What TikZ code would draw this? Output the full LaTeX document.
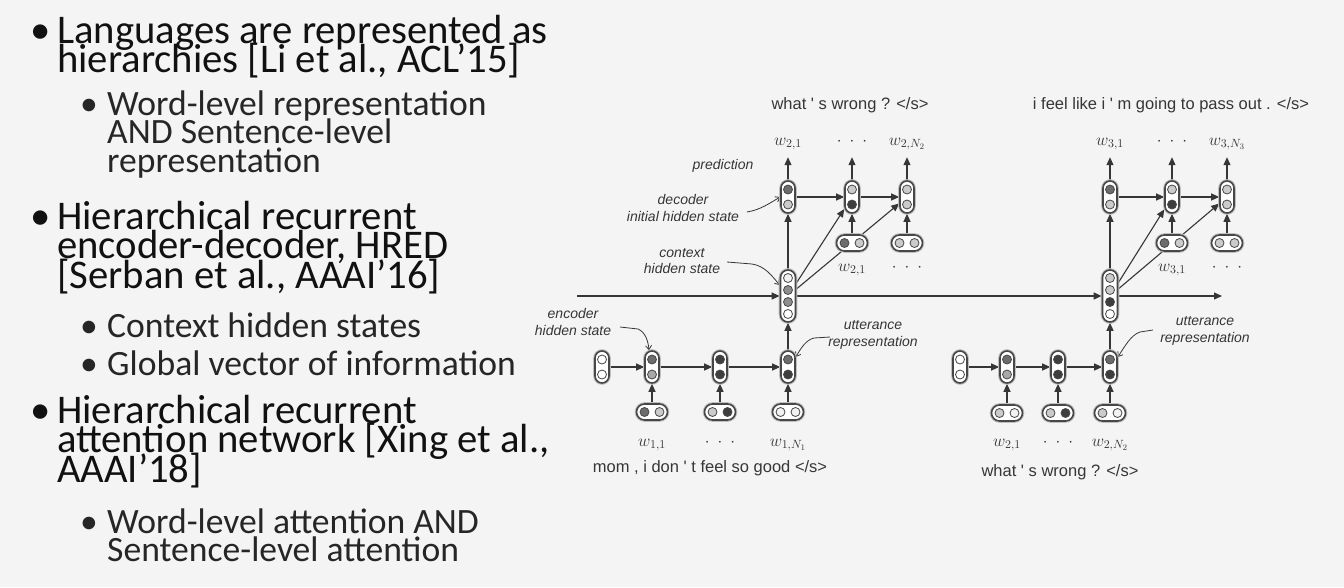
\RequirePackage{fix-cm}
\documentclass[tikz,border=0pt]{standalone}
\usepackage[no-math]{fontspec}
\setmainfont{Carlito}
\newfontfamily\figsans{Liberation Sans}
\usetikzlibrary{positioning,arrows.meta,calc,backgrounds}
\definecolor{cBg}{HTML}{F4F4F4}
\definecolor{cText}{HTML}{111111}
\definecolor{cSubText}{HTML}{262626}
\definecolor{cInk}{HTML}{363636}
\definecolor{cRim}{HTML}{474747}
\definecolor{cDark}{HTML}{3E3E3E}
\definecolor{cMid}{HTML}{6C6C6C}
\definecolor{cGrey}{HTML}{8E8E8E}
\definecolor{cLight}{HTML}{A8A8A8}
\definecolor{cPale}{HTML}{CBCBCB}
\definecolor{cWhite}{HTML}{F2F2F2}
\newcommand{\figtight}{\lineskiplimit=-50pt\relax}
\tikzset{
  fig/main/.style  ={font=\fontsize{40.7}{29.5}\selectfont\figtight, text=cText,
                     align=left, inner sep=0pt, anchor=base west},
  fig/sub/.style   ={font=\fontsize{35.6}{28.5}\selectfont\figtight, text=cSubText,
                     align=left, inner sep=0pt, anchor=base west},
  fig/dot/.style   ={font=\fontsize{40.7}{30}\selectfont, text=cText, inner sep=0pt,
                     anchor=base west},
  fig/subdot/.style={fig/dot, font=\fontsize{35.6}{30}\selectfont, text=cSubText},
  fig/halo/.style  ={preaction={draw=cRim!35, line width=3.6pt}},
  fig/vpill/.style ={draw=cRim, line width=1.6pt, fill=white, rounded corners=7pt,
                     minimum width=14pt, minimum height=32pt, inner sep=0pt, fig/halo},
  fig/cpill/.style ={fig/vpill, rounded corners=7.5pt, minimum width=15pt, minimum height=52pt},
  fig/hpill/.style ={fig/vpill, rounded corners=8pt, minimum width=31pt, minimum height=16pt},
  fig/cell/.style  ={circle, draw=cRim, line width=0.8pt, minimum size=9pt, inner sep=0pt},
  fig/arr/.style   ={-{Triangle[length=8pt, width=7pt]}, line width=1.1pt, cInk},
  fig/ptr/.style   ={-{Straight Barb[length=4pt, width=6pt]}, line width=0.8pt, cInk},
  fig/sent/.style  ={font=\figsans\fontsize{16.5}{18}\selectfont, text=cInk, inner sep=0pt},
  fig/note/.style  ={font=\figsans\itshape\fontsize{14}{16.5}\selectfont, text=cInk,
                     align=center, inner sep=0pt},
  fig/word/.style  ={font=\fontsize{17}{17}\selectfont, text=cInk, inner sep=0pt,
                     text height=11pt, text depth=4pt, anchor=base}
}
\newcommand{\figdots}{${\cdot}\hspace{8pt}{\cdot}\hspace{8pt}{\cdot}$}
\begin{document}
\begin{tikzpicture}[x=1pt, y=-1pt]
  \useasboundingbox (0,0) rectangle (1344,587);
  \begin{pgfonlayer}{background}
    \fill[cBg] (0,0) rectangle (1344,587);
  \end{pgfonlayer}

  % --- left column: bullet list (nodes sit on their last baseline) ---
  \node[fig/dot] (m1dot) at (30,43) {•};
  \node[fig/main] (m1) at (57,72.5) {Languages are represented as\\hierarchies [Li et al., ACL’15]};
  \node[fig/subdot] (s1dot) at (80,115) {•};
  \node[fig/sub] (s1) at (107,172) {Word-level representation\\AND Sentence-level\\representation};
  \node[fig/dot] (m2dot) at (30,229) {•};
  \node[fig/main] (m2) at (57,288) {Hierarchical recurrent\\encoder-decoder, HRED\\{[}Serban et al., AAAI’16]};
  \node[fig/subdot] (s2dot) at (80,337) {•};
  \node[fig/sub] (s2) at (107,337) {Context hidden states};
  \node[fig/subdot] (s3dot) at (80,375) {•};
  \node[fig/sub] (s3) at (107,375) {Global vector of information};
  \node[fig/dot] (m3dot) at (30,423) {•};
  \node[fig/main] (m3) at (57,482) {Hierarchical recurrent\\attention network [Xing et al.,\\AAAI’18]};
  \node[fig/subdot] (s4dot) at (80,533) {•};
  \node[fig/sub] (s4) at (107,561.5) {Word-level attention AND\\Sentence-level attention};

  % --- encoder states, two utterances ---
  \foreach \nm/\x/\ca/\cb in {eA0/602/white/white, eA1/652/cMid/cLight, eA2/720/cDark/cDark,
                              eA3/788/cMid/cDark, eB0/960/white/white, eB1/1007/cMid/cLight,
                              eB2/1058/cDark/cDark, eB3/1110/cMid/cDark} {
    \node[fig/vpill] (\nm) at (\x,367) {};
    \node[fig/cell, fill=\ca] (\nm-a) at ($(\nm)+(0,-7.5)$) {};
    \node[fig/cell, fill=\cb] (\nm-b) at ($(\nm)+(0,7.5)$) {};
  }
  % --- decoder states ---
  \foreach \nm/\x/\ca/\cb in {dA1/788/cMid/cPale, dA2/852/cPale/cDark, dA3/907/cPale/cPale,
                              dB1/1110/cMid/cPale, dB2/1172/cPale/cDark, dB3/1227/cPale/cPale} {
    \node[fig/vpill] (\nm) at (\x,197) {};
    \node[fig/cell, fill=\ca] (\nm-a) at ($(\nm)+(0,-7.5)$) {};
    \node[fig/cell, fill=\cb] (\nm-b) at ($(\nm)+(0,7.5)$) {};
  }
  % --- word embeddings (horizontal pills) ---
  \foreach \nm/\x/\y/\ca/\cb in {iA1/652/412/cMid/cPale, iA2/720/412/cPale/cDark,
                                 iA3/788/412/cWhite/cWhite, iB1/1007/413/cPale/cWhite,
                                 iB2/1058/413/cPale/cDark, iB3/1110/413/cPale/cWhite,
                                 jA2/852/243/cMid/cPale, jA3/907/243/cPale/cPale,
                                 jB2/1172/243/cMid/cPale, jB3/1227/243/cPale/cPale} {
    \node[fig/hpill] (\nm) at (\x,\y) {};
    \node[fig/cell, fill=\ca] (\nm-a) at ($(\nm)+(-7.5,0)$) {};
    \node[fig/cell, fill=\cb] (\nm-b) at ($(\nm)+(7.5,0)$) {};
  }
  % --- context states ---
  \foreach \nm/\x/\ca/\cb/\cc in {cA/788/cWhite/cGrey/cGrey, cB/1110/cPale/cPale/cDark} {
    \node[fig/cpill] (\nm) at (\x,296) {};
    \node[fig/cell, fill=\ca] (\nm-a) at ($(\nm)+(0,-18)$) {};
    \node[fig/cell, fill=\cb] (\nm-b) at ($(\nm)+(0,-6)$) {};
    \node[fig/cell, fill=\cc] (\nm-c) at ($(\nm)+(0,6)$) {};
    \node[fig/cell, fill=white] (\nm-d) at ($(\nm)+(0,18)$) {};
  }

  % --- word labels ---
  \node[fig/word] (wA1) at (788,145) {$w_{2,1}$};
  \node[fig/word] (wA2) at (852,145) {\figdots};
  \node[fig/word] (wA3) at (907,145) {$w_{2,N_2}$};
  \node[fig/word] (wB1) at (1110,145) {$w_{3,1}$};
  \node[fig/word] (wB2) at (1172,145) {\figdots};
  \node[fig/word] (wB3) at (1227,145) {$w_{3,N_3}$};
  \node[fig/word] (vA2) at (852,271) {$w_{2,1}$};
  \node[fig/word] (vA3) at (907,271) {\figdots};
  \node[fig/word] (vB2) at (1172,271) {$w_{3,1}$};
  \node[fig/word] (vB3) at (1227,271) {\figdots};
  \node[fig/word] (uA1) at (652,446) {$w_{1,1}$};
  \node[fig/word] (uA2) at (720,446) {\figdots};
  \node[fig/word] (uA3) at (788,446) {$w_{1,N_1}$};
  \node[fig/word] (uB1) at (1007,446) {$w_{2,1}$};
  \node[fig/word] (uB2) at (1058,446) {\figdots};
  \node[fig/word] (uB3) at (1110,446) {$w_{2,N_2}$};

  % --- sentences ---
  \node[fig/sent] (sentA) at (850,105) {what \textquotesingle\ s wrong ? </s>};
  \node[fig/sent] (sentB) at (1171,105) {i feel like i \textquotesingle\ m going to pass out . </s>};
  \node[fig/sent] (sentC) at (710,468) {mom , i don \textquotesingle\ t feel so good </s>};
  \node[fig/sent] (sentD) at (1060,472) {what \textquotesingle\ s wrong ? </s>};

  % --- annotations ---
  \node[fig/note] (nPred) at (723,166) {prediction};
  \node[fig/note] (nDec) at (683,208) {decoder\\initial hidden state};
  \node[fig/note] (nCtx) at (682,261) {context\\hidden state};
  \node[fig/note] (nEnc) at (573,322) {encoder\\hidden state};
  \node[fig/note] (nUttA) at (873,335) {utterance\\representation};
  \node[fig/note] (nUttB) at (1205,331) {utterance\\representation};

  \coordinate (ctxIn) at (577,296);
  \coordinate (ctxOut) at (1222,296);
  \coordinate (pDec) at (747,212);
  \coordinate (pCtx) at (727,262);
  \coordinate (pEnc) at (620,327);
  \coordinate (pUttA) at (830,337);
  \coordinate (pUttB) at (1153,330);

  % --- connectors, behind the pills ---
  \begin{scope}[on background layer]
    \foreach \s/\t in {eA0/eA1, eA1/eA2, eA2/eA3, eB0/eB1, eB1/eB2, eB2/eB3,
                       dA1/dA2, dA2/dA3, dB1/dB2, dB2/dB3,
                       iA1/eA1, iA2/eA2, iA3/eA3, iB1/eB1, iB2/eB2, iB3/eB3,
                       eA3/cA, eB3/cB, cA/cB, cA/dA1, cA/dA2, cA/dA3, cB/dB1, cB/dB2, cB/dB3,
                       jA2/dA2, jA3/dA3, jB2/dB2, jB3/dB3}
      \draw[fig/arr] (\s) -- (\t);
    \foreach \s/\t in {dA1/wA1, dA2/wA2, dA3/wA3, dB1/wB1, dB2/wB2, dB3/wB3}
      \draw[fig/arr, shorten >=8pt] (\s) -- (\s |- \t.south);
    \draw[fig/arr] (ctxIn) -- (cA);
    \draw[fig/arr] (cB) -- (ctxOut);
    % label pointers
    \draw[fig/ptr] (pDec) .. controls (760,210) and (770,203) .. (dA1.west);
    \draw[fig/ptr] (pCtx) -- (752,264) .. controls (765,266) and (772,276) .. ($(cA.west)+(0,-11)$);
    \draw[fig/ptr] (pEnc) -- (638,329) .. controls (645,332) and (648,340) .. ($(eA1.north)+(-3,0)$);
    \draw[fig/ptr] (pUttA) -- (814,338) .. controls (806,340) and (801,348) .. ($(eA3.east)+(0,-10)$);
    \draw[fig/ptr] (pUttB) -- (1140,332) .. controls (1131,335) and (1125,346) .. ($(eB3.east)+(0,-10)$);
  \end{scope}
\end{tikzpicture}
\end{document}
